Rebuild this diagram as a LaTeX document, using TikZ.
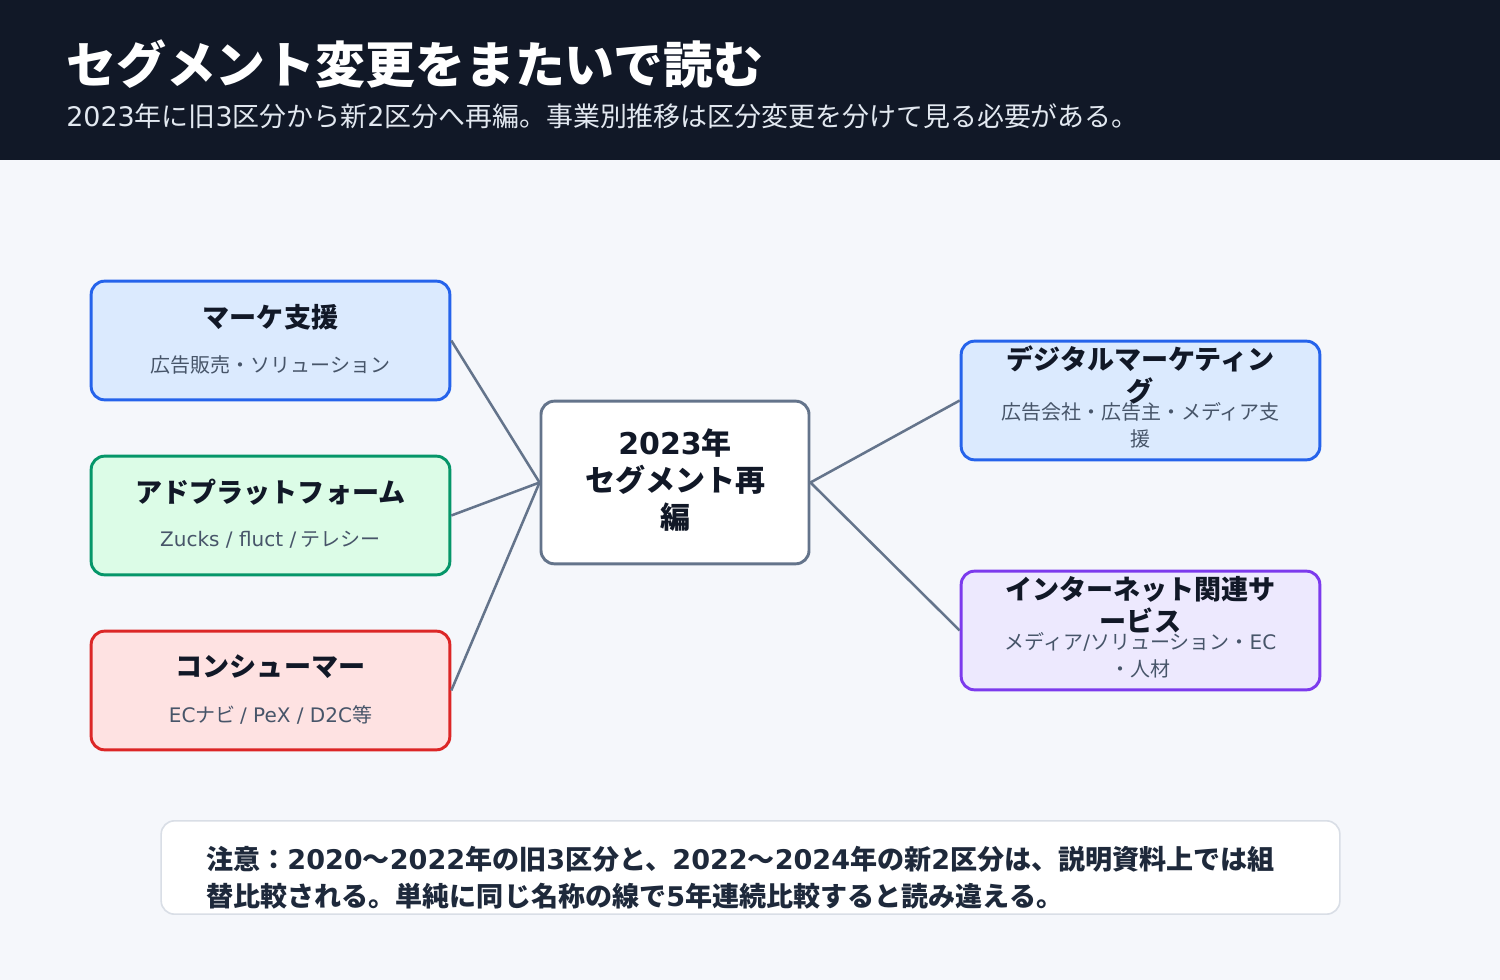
\documentclass[tikz,border=0pt]{standalone}
\usepackage{fontspec}
\setmainfont{Noto Sans CJK JP}
\newfontfamily\latinf{DejaVu Sans}
\newcommand\latn[1]{{\latinf #1}}
\usetikzlibrary{positioning}

\definecolor{hdrbg}{HTML}{111827}
\definecolor{pagebg}{HTML}{F5F7FB}
\definecolor{hdrsub}{HTML}{E2E8F0}
\definecolor{ink}{HTML}{111827}
\definecolor{subink}{HTML}{475569}
\definecolor{noteink}{HTML}{1E293B}
\definecolor{edge}{HTML}{64748B}
\definecolor{blueline}{HTML}{2563EB}
\definecolor{bluefill}{HTML}{DBEAFE}
\definecolor{greenline}{HTML}{059669}
\definecolor{greenfill}{HTML}{DCFCE7}
\definecolor{redline}{HTML}{DC2626}
\definecolor{redfill}{HTML}{FEE2E2}
\definecolor{purpline}{HTML}{7C3AED}
\definecolor{purpfill}{HTML}{EDE9FE}
\definecolor{noteline}{HTML}{D9DEE6}

\begin{document}
\begin{tikzpicture}[x=0.75pt, y=-0.75pt,
    box/.style={draw, rounded corners=10pt, line width=2.2pt, minimum width=269pt, minimum height=89pt, inner sep=0pt},
    ttl/.style={font=\bfseries\fontsize{20.3}{24}\selectfont, text=ink, align=center, inner sep=0pt},
    sub/.style={font=\fontsize{15}{20}\selectfont, text=subink, align=center, inner sep=0pt},
    link/.style={draw=edge, line width=1.9pt},
]
  \useasboundingbox (0,0) rectangle (1500,980);
  \fill[pagebg] (0,0) rectangle (1500,980);
  \fill[hdrbg] (0,0) rectangle (1500,160);

  % header
  \node[anchor=west, inner sep=0pt, text=white, font=\bfseries\fontsize{37.4}{40}\selectfont] (title) at (66,64) {セグメント変更をまたいで読む};
  \node[anchor=west, inner sep=0pt, text=hdrsub, font=\fontsize{20.2}{24}\selectfont] (subtitle) at (66,116) {\latn{2023}年に旧\latn{3}区分から新\latn{2}区分へ再編。事業別推移は区分変更を分けて見る必要がある。};

  % old segments
  \node[box, draw=blueline, fill=bluefill] (mkt) at (270.5,340.5) {};
  \node[ttl] (mktt) at (270.5,317) {マーケ支援};
  \node[sub] (mkts) at (270.5,365) {広告販売・ソリューション};

  \node[box, draw=greenline, fill=greenfill] (adp) at (270.5,515.5) {};
  \node[ttl] (adpt) at (270.5,492) {アドプラットフォーム};
  \node[sub] (adps) at (270.5,540) {\latn{Zucks / fluct /} テレシー};

  \node[box, draw=redline, fill=redfill] (csm) at (270.5,690.5) {};
  \node[ttl] (csmt) at (270.5,667) {コンシューマー};
  \node[sub] (csms) at (270.5,715) {\latn{EC}ナビ \latn{/ PeX / D2C}等};

  % reorganisation
  \node[box, draw=edge, fill=white, minimum width=201pt, minimum height=122pt] (ctr) at (675,482.5) {};
  \node[ttl, font=\bfseries\fontsize{22.5}{28}\selectfont] (ctrt) at (675,480) {\latn{2023}年\\セグメント再\\編};

  % new segments
  \node[box, draw=blueline, fill=bluefill] (dgm) at (1140.5,400.5) {};
  \node[ttl] (dgmt) at (1140.5,375) {デジタルマーケティン\\グ};
  \node[sub, font=\fontsize{15}{20.25}\selectfont] (dgms) at (1140.5,425.5) {広告会社・広告主・メディア支\\援};

  \node[box, draw=purpline, fill=purpfill] (inet) at (1140.5,630.5) {};
  \node[ttl] (inett) at (1140.5,605) {インターネット関連サ\\ービス};
  \node[sub, font=\fontsize{15}{20.25}\selectfont] (inets) at (1140.5,655.5) {メディア\latn{/}ソリューション・\latn{EC}\\・人材};

  \draw[link] (mkt.east) -- (ctr.west);
  \draw[link] (adp.east) -- (ctr.west);
  \draw[link] (csm.east) -- (ctr.west);
  \draw[link] (ctr.east) -- (dgm.west);
  \draw[link] (ctr.east) -- (inet.west);

  % note
  \node[draw=noteline, fill=white, line width=1.2pt, rounded corners=10pt, minimum width=884pt, minimum height=70pt] (note) at (750.5,867.5) {};
  \node[anchor=west, inner sep=0pt, text=noteink, align=left, font=\bfseries\fontsize{20.3}{28}\selectfont] (notet) at (206,877.5) {注意：\latn{2020}〜\latn{2022}年の旧\latn{3}区分と、\latn{2022}〜\latn{2024}年の新\latn{2}区分は、説明資料上では組\\替比較される。単純に同じ名称の線で\latn{5}年連続比較すると読み違える。};
\end{tikzpicture}
\end{document}
